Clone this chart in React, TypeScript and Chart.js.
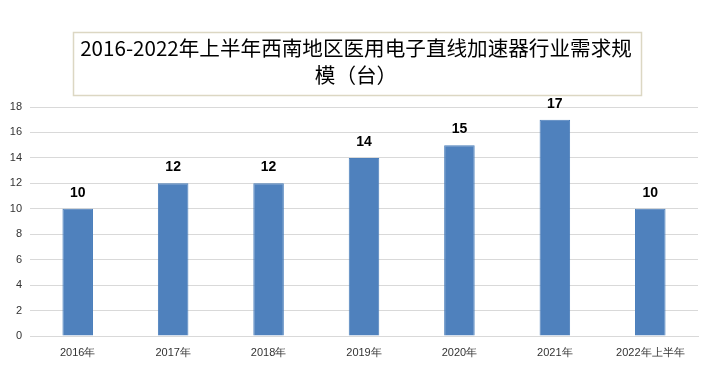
import React, { useEffect, useRef } from "react";
import { Chart, registerables } from "chart.js";

Chart.register(...registerables);

const categories = ["2016年", "2017年", "2018年", "2019年", "2020年", "2021年", "2022年上半年"];
const demand = [10, 12, 12, 14, 15, 17, 10];
const titleLines = ["2016-2022年上半年西南地区医用电子直线加速器行业需求规", "模（台）"];

const decorPlugin = {
  id: "decor",
  afterDatasetsDraw(chart: any) {
    const ctx = chart.ctx;
    const meta = chart.getDatasetMeta(0);
    ctx.save();
    ctx.font = "bold 14px 'Liberation Sans', Arial, sans-serif";
    ctx.fillStyle = "#000000";
    ctx.textAlign = "center";
    ctx.textBaseline = "bottom";
    meta.data.forEach((bar: any, i: number) => {
      ctx.fillText(String(demand[i]), bar.x, bar.y - 9);
    });
    ctx.restore();
  },
  afterDraw(chart: any) {
    const ctx = chart.ctx;
    ctx.save();
    ctx.strokeStyle = "#dcd7c3";
    ctx.lineWidth = 1.5;
    ctx.strokeRect(73.5, 32.5, 568, 63);
    ctx.fillStyle = "#000000";
    ctx.font = "20.6px 'Noto Sans CJK SC', sans-serif";
    ctx.textAlign = "center";
    ctx.textBaseline = "middle";
    ctx.fillText(titleLines[0], 356, 48);
    ctx.fillText(titleLines[1], 356, 75);
    ctx.restore();
  },
};

export default function App() {
  const ref = useRef<HTMLCanvasElement | null>(null);
  useEffect(() => {
    document.body.style.margin = "0";
    const chart = new Chart(ref.current as HTMLCanvasElement, {
      type: "bar",
      data: {
        labels: categories,
        datasets: [
          {
            data: demand,
            backgroundColor: "#4f81bd",
            borderColor: "#4a7ebb",
            borderWidth: 1,
            barPercentage: 0.32,
            categoryPercentage: 1,
          },
        ],
      },
      options: {
        animation: false,
        responsive: false,
        layout: { padding: { top: 107, right: 8, left: 0, bottom: 0 } },
        plugins: { legend: { display: false }, tooltip: { enabled: false }, title: { display: false } },
        scales: {
          x: {
            grid: { display: false, drawTicks: false },
            border: { color: "#d9d9d9" },
            ticks: {
              color: "#333333",
              font: { size: 11, family: "'Liberation Sans', Arial, sans-serif" },
              maxRotation: 0,
              autoSkip: false,
              padding: 10,
            },
            afterFit: (s: any) => {
              s.height = 38;
            },
          },
          y: {
            min: 0,
            max: 18,
            ticks: {
              stepSize: 2,
              color: "#333333",
              font: { size: 11, family: "'Liberation Sans', Arial, sans-serif" },
              padding: 8,
            },
            grid: { color: "#d9d9d9", drawTicks: false },
            border: { display: false },
            afterFit: (s: any) => {
              s.width = 30;
            },
          },
        },
      },
      plugins: [decorPlugin],
    });
    return () => chart.destroy();
  }, []);
  return (
    <div style={{ position: "absolute", left: 0, top: 0, width: 706, height: 374, background: "#fff" }}>
      <canvas ref={ref} width={706} height={374} style={{ width: 706, height: 374 }} />
    </div>
  );
}
